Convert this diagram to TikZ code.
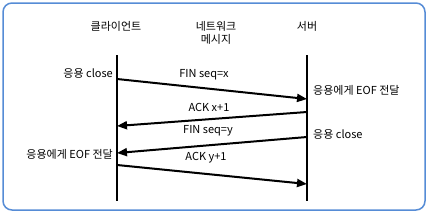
\documentclass[tikz,border=0pt]{standalone}
\usepackage{fontspec}
\setmainfont{Noto Sans CJK KR}
\usetikzlibrary{arrows.meta}
\definecolor{framecol}{RGB}{86,140,214}
\tikzset{
  msg/.style={line width=2pt,-{Triangle[length=10pt,width=8pt]}},
  life/.style={line width=1.6pt},
  lbl/.style={font=\fontsize{11}{12.5}\selectfont,inner sep=1pt}
}
\begin{document}
\begin{tikzpicture}[x=1pt,y=-1pt]
    \useasboundingbox (0,0) rectangle (428,214);
    \draw[framecol,line width=1.5pt,rounded corners=9pt] (3,3) rectangle (425,210);

    % heads
    \node[lbl] (client) at (116,26) {클라이언트};
    \node[lbl,align=center] (net) at (216,33) {네트워크\\메시지};
    \node[lbl] (server) at (307,26) {서버};

    % lifelines
    \coordinate (ctop) at (117,55);
    \coordinate (cbot) at (117,201);
    \coordinate (stop) at (307,55);
    \coordinate (sbot) at (307,201);
    \draw[life] (ctop) -- (cbot);
    \draw[life] (stop) -- (sbot);

    % message ends
    \coordinate (c1) at (117,79);
    \coordinate (s1) at (307,99);
    \coordinate (s2) at (307,112);
    \coordinate (c2) at (117,126);
    \coordinate (s3) at (307,137);
    \coordinate (c3) at (117,153);
    \coordinate (c4) at (117,165);
    \coordinate (s4) at (307,184);

    \draw[msg] (c1) -- (s1);
    \draw[msg] (s2) -- (c2);
    \draw[msg] (s3) -- (c3);
    \draw[msg] (c4) -- (s4);

    % message labels
    \node[lbl] (m1) at (204,75) {FIN seq=x};
    \node[lbl] (m2) at (209,107) {ACK x+1};
    \node[lbl] (m3) at (208,131) {FIN seq=y};
    \node[lbl] (m4) at (206,158) {ACK y+1};

    % side labels
    \node[lbl,anchor=east] (cclose) at (114,73) {응용 close};
    \node[lbl,anchor=west] (seof) at (312,90) {응용에게 EOF 전달};
    \node[lbl,anchor=west] (sclose) at (312,134) {응용 close};
    \node[lbl,anchor=east] (ceof) at (114,154) {응용에게 EOF 전달};
\end{tikzpicture}
\end{document}
